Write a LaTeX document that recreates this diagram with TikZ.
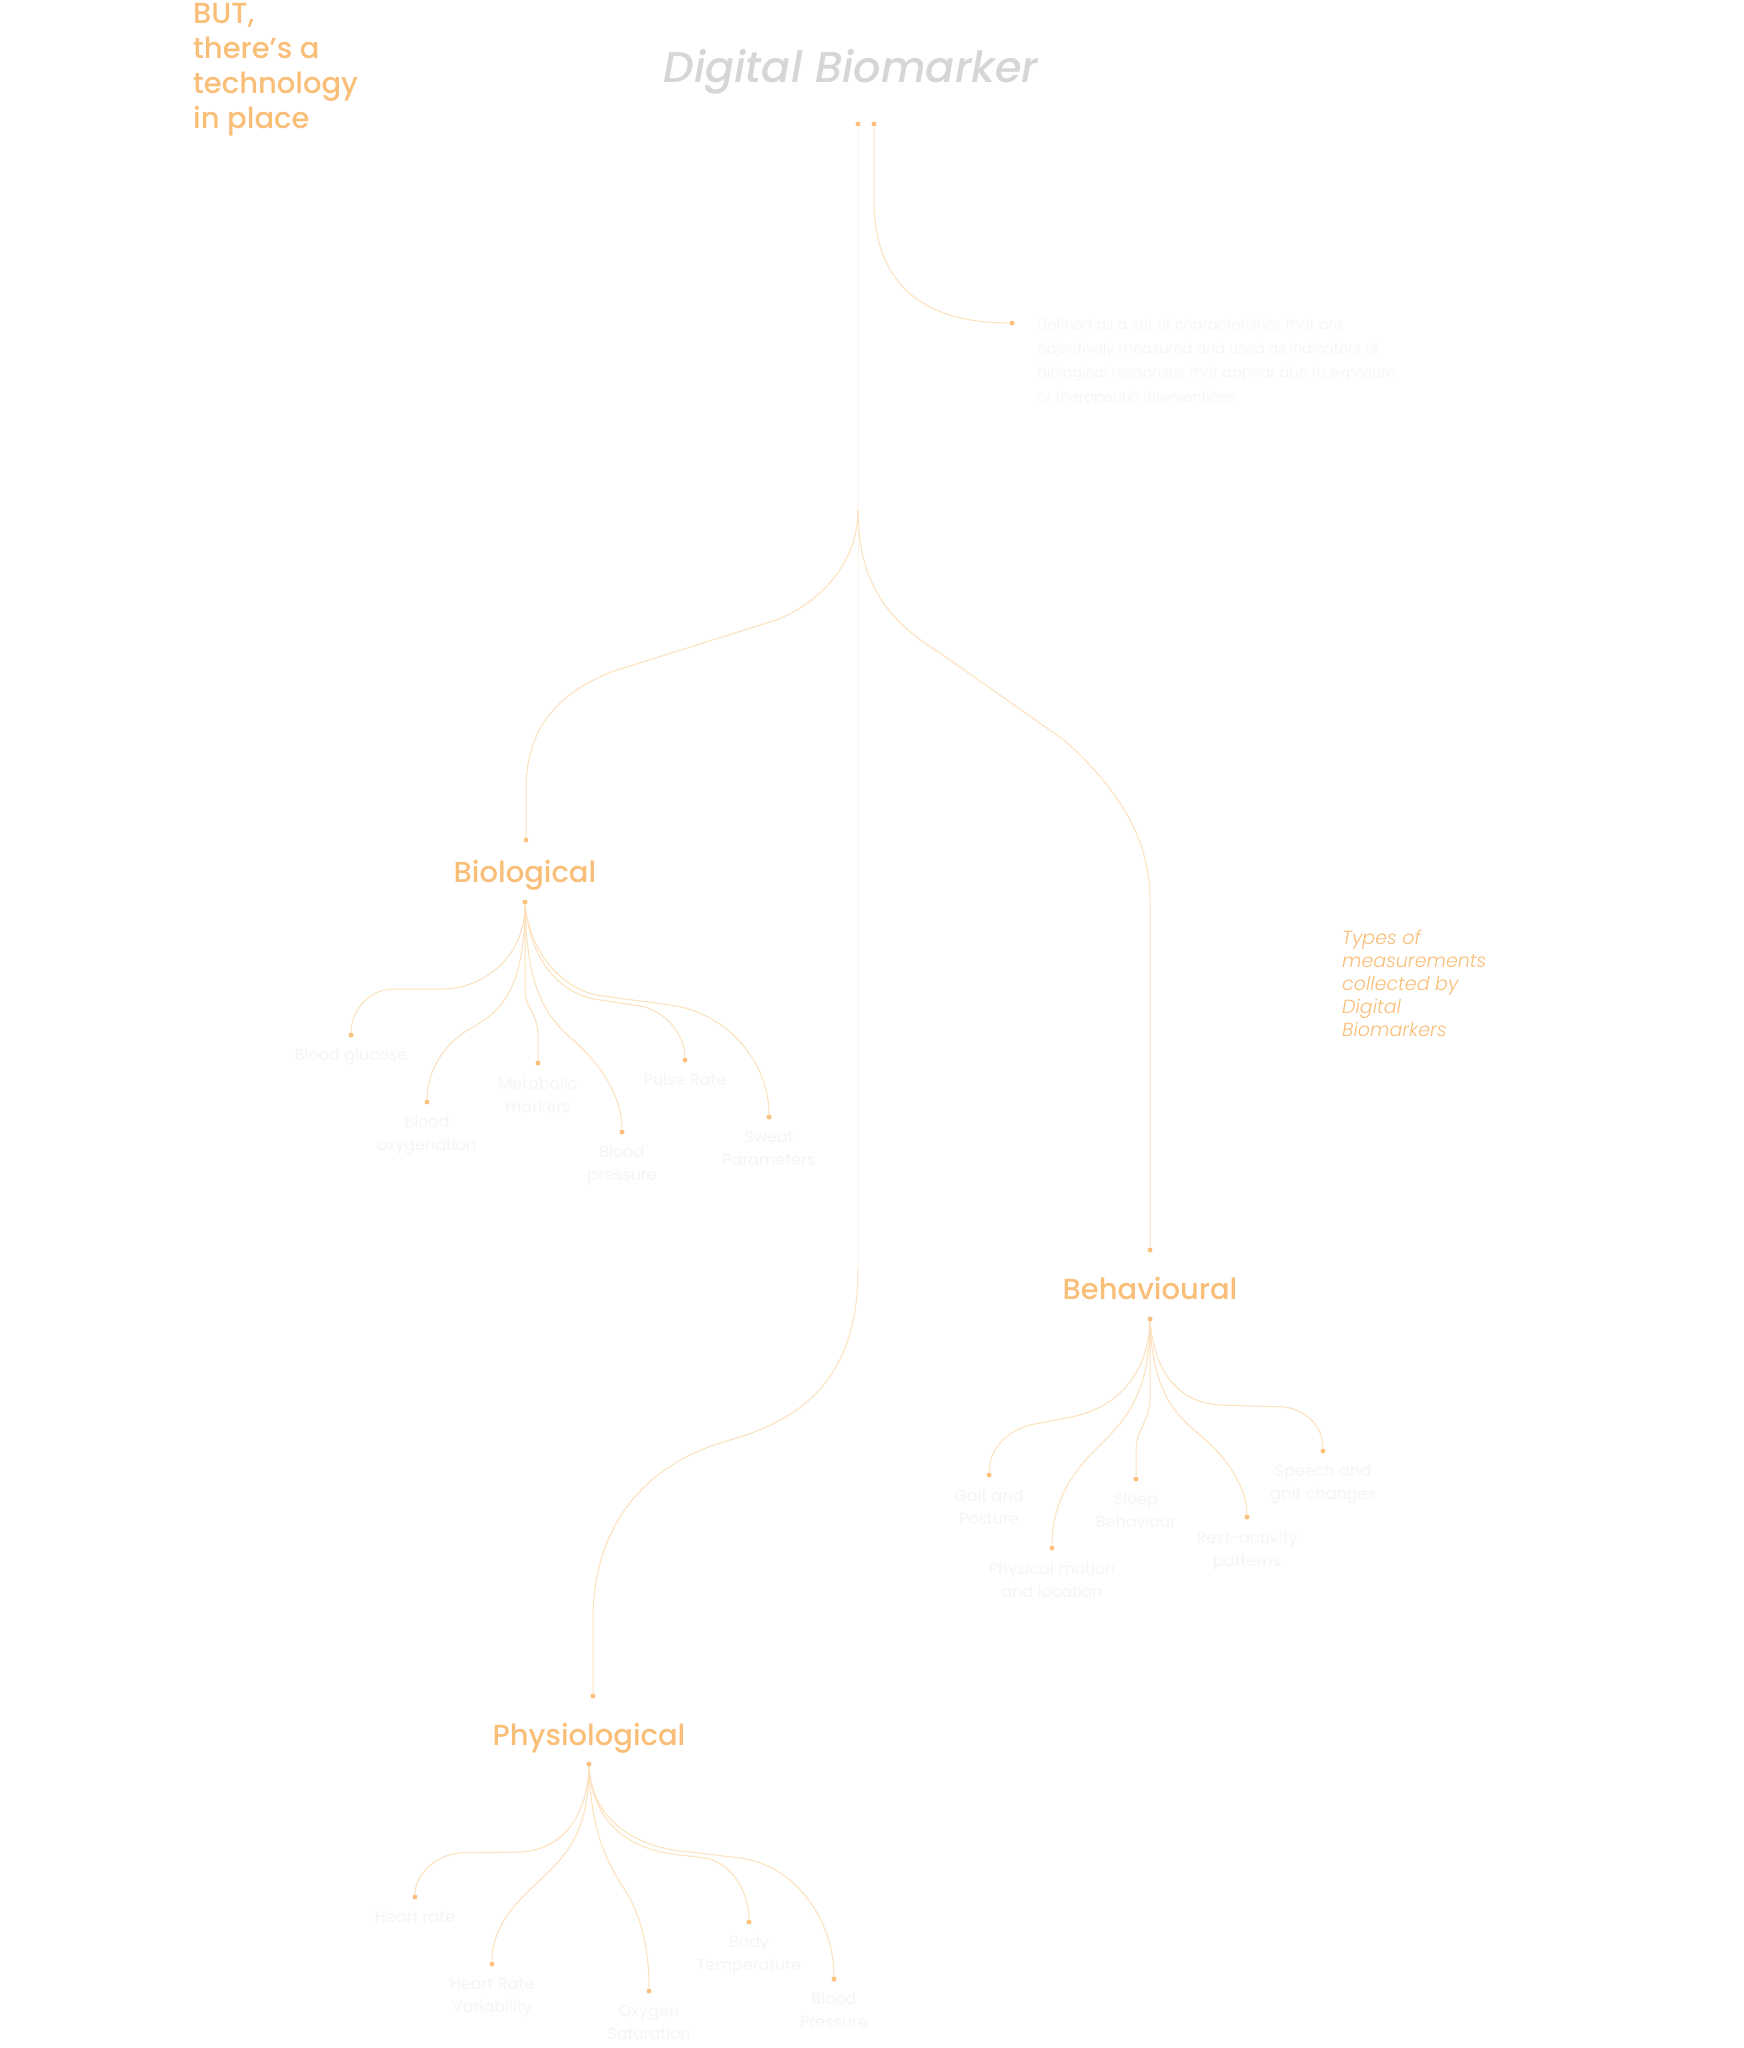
\documentclass[tikz,border=0pt]{standalone}
\usepackage{fontspec}
\setmainfont{Poppins}
\newfontfamily\popmed{Poppins Medium}[ItalicFont={Poppins Medium Italic}]
\newfontfamily\poplight{Poppins Light}[ItalicFont={Poppins Light Italic}]
\usetikzlibrary{positioning}
\definecolor{bmorange}{HTML}{F9BE78}
\definecolor{bmdot}{HTML}{FBC27F}
\definecolor{bmline}{HTML}{FDE0BC}
\definecolor{bmtrunk}{HTML}{FFF4E8}
\definecolor{bmgrey}{HTML}{D6D6D6}
\definecolor{bmfaint}{HTML}{F5F5F5}

\begin{document}
\begin{tikzpicture}[x=1pt,y=-1pt,
 dot/.style={circle,fill=bmdot,inner sep=0pt,minimum size=5pt},
 branch/.style={draw=bmline,line width=1pt},
 trunk/.style={draw=bmtrunk,line width=1pt},
 heading/.style={inner sep=0pt,text=bmorange,font=\popmed\fontsize{29}{35}\selectfont},
 leaf/.style={inner sep=0pt,align=center,text=bmfaint,font=\fontsize{16}{23}\selectfont}]
\useasboundingbox[fill=white] (0,0) rectangle (1744,2048);

% titles
\node[anchor=north west,inner sep=0pt,align=left,text=bmorange,
 font=\popmed\fontsize{29}{35}\selectfont] (but) at (193,3)
 {BUT,\\there’s a\\technology\\in place};
\node[inner sep=0pt,text=bmgrey,font=\popmed\itshape\fontsize{43}{50}\selectfont] (title) at (851,72) {Digital Biomarker};
\node[anchor=north west,inner sep=0pt,align=left,text=bmorange,
 font=\poplight\itshape\fontsize{19}{23}\selectfont] (types) at (1342,930)
 {Types of\\measurements\\collected by\\Digital\\Biomarkers};

% root and definition
\node[dot] (root) at (858,124) {};
\node[dot] (rootb) at (874,124) {};
\node[dot] (defdot) at (1012,323) {};
\node[anchor=north west,inner sep=0pt,align=left,text=bmfaint,
 font=\poplight\fontsize{14.5}{24.3}\selectfont] (def) at (1037,318)
 {Defined as a set of characteristics that are\\objectively measured and used as indicators of\\biological responses that appear due to exposure\\or therapeutic interventions};
\draw[branch] (rootb) -- (874,200) .. controls (874,290) and (930,323) .. (defdot);

% categories
\coordinate (split) at (858,510);
\coordinate (bend) at (858,1270);
\node[dot] (biotop) at (526,840) {};
\node[heading] (bio) at (525,875) {Biological};
\node[dot] (bioroot) at (525,902) {};
\node[dot] (behtop) at (1150,1250) {};
\node[heading] (beh) at (1150,1288) {Behavioural};
\node[dot] (behroot) at (1150,1319) {};
\node[dot] (phytop) at (593,1696) {};
\node[heading] (phy) at (589,1738) {Physiological};
\node[dot] (phyroot) at (589,1764) {};

\draw[trunk] (root) -- (split) -- (bend);
\draw[branch] (split) .. controls (858,563) and (820,603) .. (776,620) -- (611,672)
 .. controls (555,695) and (526,730) .. (526,790) -- (biotop);
\draw[branch] (split) .. controls (858,590) and (895,625) .. (940,653) -- (1064,740)
 .. controls (1120,790) and (1150,840) .. (1150,900) -- (behtop);
\draw[branch] (bend) .. controls (858,1380) and (800,1420) .. (730,1440)
 .. controls (640,1465) and (593,1530) .. (593,1620) -- (phytop);

% Biological
\node[dot] (glu) at (351,1035) {};
\node[dot] (oxy) at (427,1102) {};
\node[dot] (meta) at (538,1063) {};
\node[dot] (bpr) at (622,1132) {};
\node[dot] (pulse) at (685,1060) {};
\node[dot] (sweat) at (769,1117) {};
\node[leaf,below=11pt of glu] {Blood glucose};
\node[leaf,below=11pt of oxy] {Blood\\oxygenation};
\node[leaf,below=11pt of meta] {Metabolic\\markers};
\node[leaf,below=11pt of bpr] {Blood\\pressure};
\node[leaf,below=11pt of pulse] {Pulse Rate};
\node[leaf,below=11pt of sweat] {Sweat\\Parameters};
\draw[branch] (bioroot) .. controls (525,960) and (480,989) .. (443,989) -- (393,989)
 .. controls (370,989) and (351,1010) .. (glu);
\draw[branch] (bioroot) .. controls (525,990) and (500,1012) .. (473,1027)
 .. controls (440,1045) and (427,1075) .. (oxy);
\draw[branch] (bioroot) -- (525,993) .. controls (525,1005) and (538,1015) .. (538,1035) -- (meta);
\draw[branch] (bioroot) .. controls (527,990) and (545,1015) .. (573,1040)
 .. controls (605,1068) and (622,1100) .. (bpr);
\draw[branch] (bioroot) .. controls (530,960) and (560,995) .. (600,1000) -- (640,1006)
 .. controls (665,1010) and (685,1035) .. (pulse);
\draw[branch] (bioroot) .. controls (530,955) and (565,992) .. (603,996) -- (670,1005)
 .. controls (725,1012) and (769,1060) .. (sweat);

% Behavioural
\node[dot] (gait) at (989,1475) {};
\node[dot] (motion) at (1052,1548) {};
\node[dot] (sleep) at (1136,1479) {};
\node[dot] (rest) at (1247,1517) {};
\node[dot] (speech) at (1323,1451) {};
\node[leaf,below=11pt of gait] {Gait and\\Posture};
\node[leaf,below=11pt of motion] {Physical motion\\and location};
\node[leaf,below=11pt of sleep] {Sleep\\Behaviour};
\node[leaf,below=11pt of rest] {Rest-activity\\patterns};
\node[leaf,below=11pt of speech] {Speech and\\gait changes};
\draw[branch] (behroot) .. controls (1148,1380) and (1110,1410) .. (1071,1417) -- (1030,1425)
 .. controls (1005,1432) and (989,1450) .. (gait);
\draw[branch] (behroot) .. controls (1150,1400) and (1120,1425) .. (1095,1450)
 .. controls (1065,1480) and (1052,1510) .. (motion);
\draw[branch] (behroot) -- (1150,1400) .. controls (1150,1420) and (1136,1430) .. (1136,1450) -- (sleep);
\draw[branch] (behroot) .. controls (1152,1390) and (1175,1415) .. (1200,1435)
 .. controls (1230,1460) and (1247,1490) .. (rest);
\draw[branch] (behroot) .. controls (1155,1380) and (1185,1403) .. (1220,1405) -- (1285,1407)
 .. controls (1305,1410) and (1323,1425) .. (speech);

% Physiological
\node[dot] (hr) at (415,1897) {};
\node[dot] (hrv) at (492,1964) {};
\node[dot] (spo) at (649,1991) {};
\node[dot] (temp) at (749,1922) {};
\node[dot] (bp) at (834,1979) {};
\node[leaf,below=11pt of hr] {Heart rate};
\node[leaf,below=11pt of hrv] {Heart Rate\\Variability};
\node[leaf,below=11pt of spo] {Oxygen\\Saturation};
\node[leaf,below=11pt of temp] {Body\\Temperature};
\node[leaf,below=11pt of bp] {Blood\\Pressure};
\draw[branch] (phyroot) .. controls (587,1820) and (560,1850) .. (520,1852) -- (460,1853)
 .. controls (435,1855) and (415,1875) .. (hr);
\draw[branch] (phyroot) .. controls (589,1840) and (560,1860) .. (535,1885)
 .. controls (505,1912) and (492,1935) .. (hrv);
\draw[branch] (phyroot) .. controls (591,1840) and (612,1870) .. (628,1895)
 .. controls (642,1920) and (649,1950) .. (spo);
\draw[branch] (phyroot) .. controls (593,1825) and (630,1850) .. (680,1855) -- (705,1858)
 .. controls (730,1862) and (749,1890) .. (temp);
\draw[branch] (phyroot) .. controls (592,1820) and (635,1848) .. (690,1852) -- (740,1858)
 .. controls (795,1865) and (834,1920) .. (bp);
\end{tikzpicture}
\end{document}
